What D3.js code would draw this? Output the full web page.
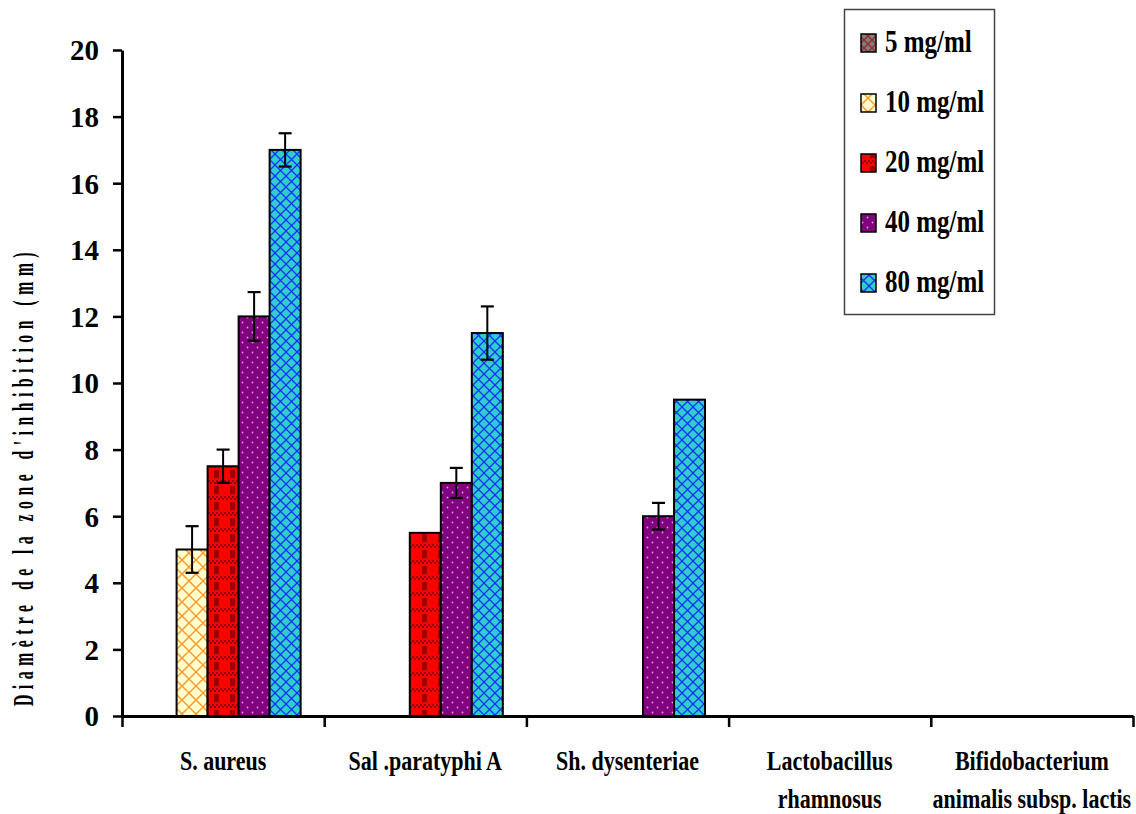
<!DOCTYPE html>
<html><head><meta charset="utf-8">
<script src="https://cdn.jsdelivr.net/npm/d3@7/dist/d3.min.js"></script>
<style>
html,body{margin:0;padding:0;background:#fff;}
svg text{font-family:"Liberation Serif","Times New Roman",serif;font-weight:bold;fill:#000;}
</style></head>
<body>
<svg id="chart" width="1136" height="814"></svg>
<script>
const categories = [["S. aureus"], ["Sal .paratyphi A"], ["Sh. dysenteriae"], ["Lactobacillus", "rhamnosus"], ["Bifidobacterium", "animalis subsp. lactis"]];
const seriesNames = ["5 mg/ml", "10 mg/ml", "20 mg/ml", "40 mg/ml", "80 mg/ml"];
const values5  = [0, 0, 0, 0, 0];
const values10 = [5, 0, 0, 0, 0];
const values20 = [7.5, 5.5, 0, 0, 0];
const values40 = [12, 7, 6, 0, 0];
const values80 = [17, 11.5, 9.5, 0, 0];
const err5  = [0, 0, 0, 0, 0];
const err10 = [0.7, 0, 0, 0, 0];
const err20 = [0.5, 0, 0, 0, 0];
const err40 = [0.73, 0.45, 0.4, 0, 0];
const err80 = [0.5, 0.8, 0, 0, 0];
const yTicks = [0, 2, 4, 6, 8, 10, 12, 14, 16, 18, 20];
const yLabel = "Diamètre de la zone d'inhibition    (mm)";

(function () {
const allValues = [values5, values10, values20, values40, values80];
const allErr = [err5, err10, err20, err40, err80];
const patternIds = ["p5", "p10", "p20", "p40", "p80"];

const svg = d3.select("#chart");
const defs = svg.append("defs");

function pat(id, w, h, bg) {
  const p = defs.append("pattern").attr("id", id).attr("patternUnits", "userSpaceOnUse")
    .attr("width", w).attr("height", h);
  p.append("rect").attr("width", w).attr("height", h).attr("fill", bg);
  return p;
}
let p = pat("p5", 8, 8, "#7f7f7f");
p.append("path").attr("d", "M0,0 L8,8 M8,0 L0,8").attr("stroke", "#9a2a2a").attr("stroke-width", 1.4);
p = pat("p10", 14, 14, "#ffffcc");
p.append("path").attr("d", "M0,0 L14,14 M14,0 L0,14").attr("stroke", "#ff9933").attr("stroke-width", 1.5);
p = pat("p20", 16, 16, "#ff0000");
for (let i = 0; i < 8; i++) for (let j = 0; j < 2; j++) {
  if ((i + j) % 2 === 0) p.append("rect").attr("x", i * 2).attr("y", j * 2).attr("width", 2).attr("height", 2).attr("fill", "#990000");
}
p.append("rect").attr("x", 6).attr("y", 6).attr("width", 5).attr("height", 8).attr("fill", "#990000");
p = pat("p40", 10, 10, "#800080");
p.append("circle").attr("cx", 2.5).attr("cy", 2.5).attr("r", 0.9).attr("fill", "#d9a0d9");
p.append("circle").attr("cx", 7.5).attr("cy", 7.5).attr("r", 0.9).attr("fill", "#d9a0d9");
p = pat("p80", 11, 11, "#33cccc");
p.append("path").attr("d", "M0,0 L11,11 M11,0 L0,11").attr("stroke", "#1133ff").attr("stroke-width", 1.3);

const mLeft = 122, mRight = 1133, mTop = 50, mBottom = 716;
const x0 = d3.scaleBand().domain(d3.range(categories.length)).range([mLeft, mRight]).padding(0);
const x1 = d3.scaleBand().domain(seriesNames).range([0, x0.bandwidth()]).paddingInner(0).paddingOuter(0.76);
const y = d3.scaleLinear().domain([0, 20]).range([mBottom, mTop]);

const g = svg.append("g");
seriesNames.forEach((s, si) => {
  const data = allValues[si].map((v, ci) => ({ v, ci, e: allErr[si][ci] })).filter(d => d.v > 0);
  g.selectAll(null).data(data).enter().append("rect")
    .attr("x", d => x0(d.ci) + x1(s))
    .attr("y", d => y(d.v))
    .attr("width", x1.bandwidth())
    .attr("height", d => y(0) - y(d.v))
    .attr("fill", `url(#${patternIds[si]})`)
    .attr("stroke", "#000").attr("stroke-width", 2);
  const eb = data.filter(d => d.e > 0);
  const cx = d => x0(d.ci) + x1(s) + x1.bandwidth() / 2;
  g.selectAll(null).data(eb).enter().append("line")
    .attr("x1", cx).attr("x2", cx).attr("y1", d => y(d.v - d.e)).attr("y2", d => y(d.v + d.e))
    .attr("stroke", "#000").attr("stroke-width", 2);
  [-1, 1].forEach(sign => {
    g.selectAll(null).data(eb).enter().append("line")
      .attr("x1", d => cx(d) - 6.5).attr("x2", d => cx(d) + 6.5)
      .attr("y1", d => y(d.v + sign * d.e)).attr("y2", d => y(d.v + sign * d.e))
      .attr("stroke", "#000").attr("stroke-width", 2.2);
  });
});

const yAxis = svg.append("g").attr("transform", `translate(${mLeft},0)`)
  .call(d3.axisLeft(y).tickValues(yTicks).tickSize(9).tickSizeOuter(0).tickPadding(14).tickFormat(d3.format("d")));
yAxis.select(".domain").attr("stroke-width", 3);
yAxis.selectAll(".tick line").attr("stroke-width", 2.5);
yAxis.selectAll(".tick text").style("font-size", "29px").style("font-family", "Liberation Serif, serif").style("font-weight", "bold").attr("dy", "0.34em");

const xb = d3.scaleLinear().domain([0, categories.length]).range([mLeft, mRight]);
const xAxis = svg.append("g").attr("transform", `translate(0,${mBottom})`)
  .call(d3.axisBottom(xb).tickValues(d3.range(categories.length + 1)).tickSize(11).tickSizeOuter(0).tickFormat(""));
xAxis.select(".domain").attr("stroke-width", 3);
xAxis.selectAll(".tick line").attr("stroke-width", 2.5);

const stretch = 1.25;
categories.forEach((lines, ci) => {
  const t = svg.append("text").attr("text-anchor", "middle").style("font-size", "22px")
    .attr("transform", `translate(${x0(ci) + x0.bandwidth() / 2},770) scale(1,${stretch})`);
  lines.forEach((ln, li) => {
    t.append("tspan").attr("x", 0).attr("y", li * 38 / stretch).text(ln);
  });
});

svg.append("text")
  .attr("transform", "translate(33,706) rotate(-90) scale(0.72,1.3)")
  .attr("text-anchor", "start")
  .attr("textLength", 630).attr("lengthAdjust", "spacing")
  .style("font-size", "22px")
  .text(yLabel);

const lg = svg.append("g");
lg.append("rect").attr("x", 844.5).attr("y", 9.5).attr("width", 150).attr("height", 305)
  .attr("fill", "#fff").attr("stroke", "#444").attr("stroke-width", 1.5);
const ly = d3.scalePoint().domain(seriesNames).range([43, 283]);
seriesNames.forEach((s, si) => {
  lg.append("rect").attr("x", 861).attr("y", ly(s) - 9).attr("width", 15).attr("height", 18)
    .attr("fill", `url(#${patternIds[si]})`).attr("stroke", "#000").attr("stroke-width", 1.5);
  lg.append("text").attr("transform", `translate(885,${ly(s) + 9}) scale(1,1.25)`)
    .style("font-size", "25px").text(s);
});
})();
</script>
</body></html>
